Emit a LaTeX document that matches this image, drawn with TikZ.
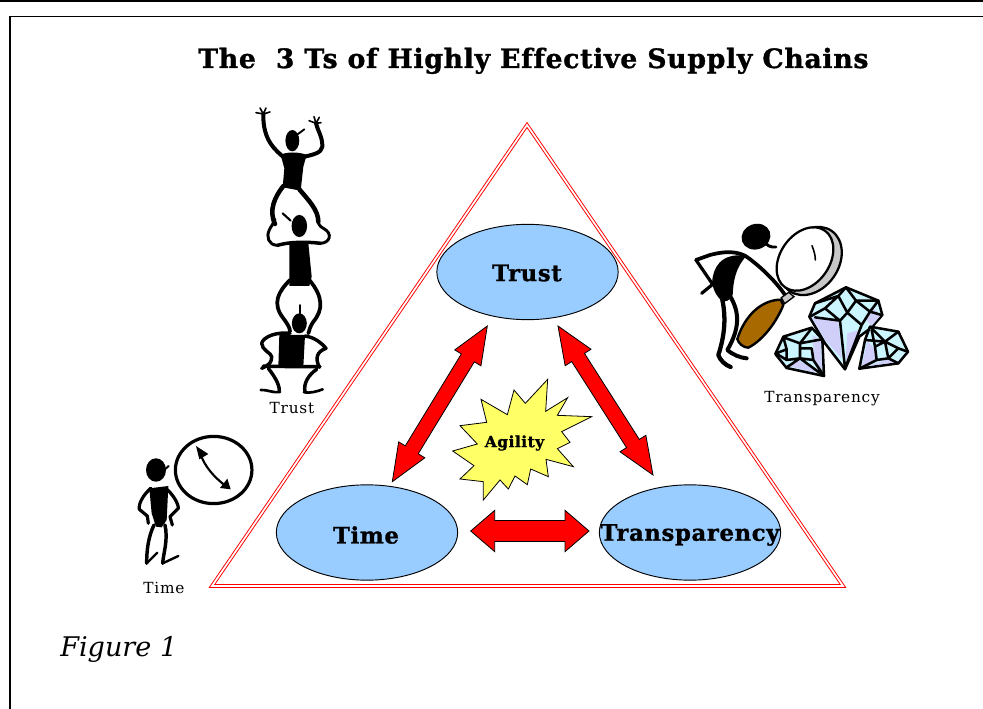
\documentclass[tikz,border=0pt]{standalone}
\usepackage{fontspec}
\setmainfont{DejaVu Serif}
\usetikzlibrary{calc,shapes.geometric}
\definecolor{ovalblue}{HTML}{99CCFF}
\definecolor{staryellow}{HTML}{FFFF66}
\definecolor{handlebrown}{HTML}{A86A00}
\definecolor{lensgray}{HTML}{C8C8C8}
\definecolor{gemcyan}{HTML}{CCF6FF}
\definecolor{gemlav}{HTML}{CFCFFA}
\newfontfamily\titlefont[FakeBold=1.2,LetterSpace=2.7,Ligatures=NoCommon]{DejaVu Serif Bold}
\newfontfamily\ovalfont[FakeBold=1.2,LetterSpace=3,Ligatures=NoCommon]{DejaVu Serif Bold}
\newfontfamily\capfont[LetterSpace=5]{DejaVu Serif}
\tikzset{
  oval/.style={ellipse,draw=black,line width=.7pt,fill=ovalblue,minimum width=136pt,minimum height=71.5pt,inner sep=0pt},
  ovaltext/.style={font=\ovalfont\fontsize{17pt}{20pt}\selectfont,inner sep=0pt},
  fat/.style={draw=black,line width=.6pt,fill=red,line join=miter},
  caption/.style={font=\capfont\fontsize{11.5pt}{13pt}\selectfont,inner sep=0pt},
  ink/.style={draw=black,line cap=round,line join=round},
  gemline/.style={draw=black,line width=1.9pt,line cap=round,line join=round},
  gemedge/.style={draw=black,line width=1.9pt,line join=round,fill=gemcyan}
}
\newcommand\fatarrow[5]{% tail tip headlen headhalf shafthalf
  \coordinate (pa) at ($(#1)!#3!(#2)$);
  \coordinate (pb) at ($(#2)!#3!(#1)$);
  \draw[fat] (#1) -- ($(pa)!#4!90:(#2)$) -- ($(pa)!#5!90:(#2)$) -- ($(pb)!#5!-90:(#1)$) -- ($(pb)!#4!-90:(#1)$) -- (#2) -- ($(pb)!#4!90:(#1)$) -- ($(pb)!#5!90:(#1)$) -- ($(pa)!#5!-90:(#2)$) -- ($(pa)!#4!-90:(#2)$) -- cycle;}
\begin{document}
\begin{tikzpicture}[x=.75pt,y=-.75pt]
\useasboundingbox (0,0) rectangle (983,709);
\fill[white] (0,0) rectangle (983,709);
% frame
\draw[line width=1.6pt] (0,0.6) -- (983,0.6);
\draw[line width=1.2pt] (10,709) -- (10,16.5) -- (983,16.5);
% title
\node[anchor=base west,inner sep=0pt,font=\titlefont\fontsize{20pt}{24pt}\selectfont] (title) at (198,68) {The\ \ 3 Ts of Highly Effective Supply Chains};
\node[anchor=base west,inner sep=0pt,font=\fontsize{20.3pt}{24pt}\itshape] (fig) at (60,657) {Figure 1};
% triangle
\draw[red,line width=.7pt,double=white,double distance=1.3pt,line join=miter] (527,125) -- (843,586) -- (212,586) -- cycle;
% ovals
\node[oval] (trust) at (527.5,272) {};
\node[oval] (time) at (367,532.5) {};
\node[oval] (transp) at (690,532.5) {};
\node[ovaltext] (trustl) at (527,273) {Trust};
\node[ovaltext] (timel) at (366,535) {Time};
\node[ovaltext] (transpl) at (690,535) {Transparency};
% arrows
\coordinate (a1) at (487.3,326);
\coordinate (a2) at (392.3,481.7);
\coordinate (b1) at (558,326);
\coordinate (b2) at (653,475);
\coordinate (c1) at (470.7,531);
\coordinate (c2) at (589,531);
\fatarrow{a1}{a2}{28pt}{11.5pt}{5.7pt}
\fatarrow{b1}{b2}{28pt}{11.5pt}{5.7pt}
\fatarrow{c1}{c2}{18pt}{15.5pt}{7.9pt}
% star
\begin{scope}[shift={(440,370)},x=.25pt,y=-.25pt]
\draw[draw=black,line width=.6pt,fill=staryellow]
 (323,28)--(317,124)--(383,83)--(352,136)--(455,140)--(365,185)--(390,217)--(352,236)--(400,290)--(318,268)--(325,320)--(272,297)--(262,344)--(225,318)--(205,357)--(180,330)--(130,390)--(130,335)--(60,327)--(102,287)--(38,243)--(112,222)--(60,167)--(140,157)--(123,88)--(202,134)--(222,60)--(256,100)--cycle;
\end{scope}
\node[font=\ovalfont\fontsize{11.6pt}{13pt}\selectfont,inner sep=0pt] (agility) at (514.5,443) {Agility};
% captions
\node[caption] (c1l) at (292,408.5) {Trust};
\node[caption] (c2l) at (822,399) {Transparency};
\node[caption] (c3l) at (164,588) {Time};
% acrobats
\begin{scope}[shift={(240,100)},x=.25pt,y=-.25pt]
 % top
 \fill (157,122) ellipse [x radius=5.2pt,y radius=8pt];
 \draw[ink,line width=1.4pt] (170,105)--(193,88);
 \fill (122,165) .. controls (135,155) and (180,155) .. (200,165) -- (190,200) -- (182,272) -- (128,262) -- (133,205) -- cycle;
 \draw[ink,line width=3pt] (135,175) .. controls (105,150) and (68,120) .. (70,42);
 \draw[ink,line width=3pt] (185,172) .. controls (215,165) and (245,160) .. (247,140) .. controls (248,110) and (232,90) .. (228,70);
 \draw[ink,line width=1.2pt] (70,42)--(48,38) (70,42)--(60,24) (70,42)--(78,24) (70,42)--(90,36);
 \draw[ink,line width=1.2pt] (228,70)--(207,62) (228,70)--(222,50) (228,70)--(238,52) (228,70)--(243,68);
 \draw[ink,line width=3.4pt] (130,258) .. controls (105,290) and (85,330) .. (105,372);
 \draw[ink,line width=3.4pt] (178,268) .. controls (205,300) and (235,330) .. (235,365);
 % middle
 \fill (178,378) ellipse [x radius=5.8pt,y radius=8.3pt];
 \draw[ink,line width=1.6pt] (128,340)--(152,362);
 \draw[ink,line width=2.2pt] (112,436) .. controls (85,435) and (78,410) .. (88,390) .. controls (92,380) and (100,372) .. (105,358);
 \draw[ink,line width=2.2pt] (240,430) .. controls (270,430) and (280,400) .. (250,385) .. controls (240,380) and (235,372) .. (232,360);
 \draw[ink,line width=2.6pt] (112,436) .. controls (150,425) and (200,425) .. (242,430);
 \fill (148,430)--(205,430)--(215,530)--(208,558)--(148,558)--cycle;
 \draw[ink,line width=2.8pt] (150,540) .. controls (115,575) and (95,610) .. (130,655) .. controls (145,675) and (150,685) .. (150,695);
 \draw[ink,line width=2.8pt] (208,540) .. controls (250,590) and (250,630) .. (220,665) .. controls (210,680) and (208,690) .. (205,700);
 % bottom
 \fill (178,670) ellipse [x radius=5.6pt,y radius=7.5pt];
 \draw[ink,line width=1.3pt] (181,615)--(181,645);
 \fill (118,705)--(195,705)--(190,800)--(115,800)--cycle;
 \draw[ink,line width=2.6pt] (150,700) .. controls (110,695) and (70,710) .. (65,730) .. controls (65,750) and (95,760) .. (95,770) .. controls (95,785) and (90,795) .. (65,805);
 \draw[ink,line width=2.6pt] (195,708) .. controls (225,712) and (245,730) .. (258,745) .. controls (230,755) and (225,775) .. (238,802);
 \draw[ink,line width=2.6pt] (70,798) .. controls (110,800) and (200,800) .. (240,800);
 \draw[ink,line width=2.6pt] (85,805) .. controls (100,825) and (118,850) .. (118,872);
 \draw[ink,line width=2pt] (62,870) .. controls (80,868) and (100,880) .. (120,876);
 \draw[ink,line width=2.6pt] (230,808) .. controls (205,825) and (190,850) .. (195,875);
 \draw[ink,line width=2pt] (192,877) .. controls (210,880) and (230,875) .. (248,868);
\end{scope}
% clock man
\begin{scope}[shift={(120,420)},x=.25pt,y=-.25pt]
 \draw[line width=2.4pt] (281,150) ellipse [x radius=28.7pt,y radius=25.2pt];
 \draw[ink,line width=1.6pt] (240,100) .. controls (255,140) and (280,170) .. (320,200);
 \fill (228,78)--(265,102)--(238,118)--cycle;
 \fill (332,208)--(300,204)--(322,176)--cycle;
 \fill (108,150) ellipse [x radius=7.5pt,y radius=8.8pt];
 \draw[ink,line width=1.5pt] (130,152)--(146,138);
 \fill (88,205) -- (145,198) -- (140,300) -- (125,322) -- (108,320) -- (95,280) -- cycle;
 \draw[ink,line width=2.4pt] (92,205) .. controls (70,225) and (55,250) .. (58,268) -- (82,288) -- (85,310);
 \draw[ink,line width=2.4pt] (138,205) .. controls (160,225) and (175,250) .. (175,265) -- (150,290) -- (157,315);
 \draw[ink,line width=2.6pt] (102,315) .. controls (85,350) and (80,390) .. (80,430);
 \draw[ink,line width=1.8pt] (80,430)--(112,398);
 \draw[ink,line width=2.6pt] (135,315) .. controls (145,360) and (130,400) .. (128,430);
 \draw[ink,line width=1.8pt] (128,430)--(175,408);
\end{scope}
% inspector (zoom 10 coordinates)
\begin{scope}[shift={(690,215)},x=.25pt,y=-.25pt]
 \fill[rotate around={20:(198,65)}] (198,65) ellipse [x radius=11pt,y radius=9.5pt];
 \draw[ink,line width=2.2pt] (222,78) .. controls (230,92) and (242,98) .. (258,96);
 \draw[ink,line width=2.8pt] (18,135) -- (60,120) .. controls (90,112) and (130,105) .. (165,122) .. controls (200,145) and (255,195) .. (285,240);
 \draw[ink,line width=2.4pt] (18,135) -- (68,208) -- (35,235);
 \fill (66,205) .. controls (68,160) and (90,112) .. (170,122) .. controls (135,160) and (130,200) .. (128,240) .. controls (110,275) and (80,260) .. (66,205) -- cycle;
 \draw[ink,line width=3.2pt] (92,235) .. controls (108,290) and (108,350) .. (85,420) .. controls (90,435) and (105,450) .. (122,456);
 \draw[ink,line width=3pt] (118,240) .. controls (150,290) and (150,340) .. (112,405) .. controls (130,420) and (150,428) .. (170,430);
 % handle
 \draw[draw=black,line width=1.8pt,fill=handlebrown,line join=round] (272,254) .. controls (215,255) and (165,300) .. (142,372) .. controls (145,385) and (160,398) .. (175,398) .. controls (220,375) and (260,320) .. (280,270) -- cycle;
 \draw[draw=black,line width=1pt,fill=lensgray] (274,248)--(296,232)--(312,245)--(284,266)--cycle;
 % lens
 \draw[draw=black,line width=1.7pt,fill=lensgray,rotate around={-35:(362,138)}] (362,138) ellipse [x radius=21pt,y radius=27.5pt];
 \draw[draw=black,line width=1.7pt,fill=white,rotate around={-35:(345,132)}] (345,132) ellipse [x radius=18.5pt,y radius=26pt];
 \draw[ink,line width=1.2pt] (366,92) .. controls (372,108) and (376,120) .. (376,135);
\end{scope}
% gems
\begin{scope}[shift={(770,280)},x=.25pt,y=-.25pt]
 % centre gem
 \draw[gemedge] (228,22)--(325,62)--(337,105)--(305,142)--(268,170)--(225,268)--(165,190)--(118,110)--(135,70)--cycle;
 \fill[gemlav] (310,85)--(333,105)--(305,138)--(288,118)--cycle;
 \fill[gemlav] (125,112)--(205,125)--(215,235)--(165,180)--cycle;
 \fill[gemlav] (232,160)--(268,150)--(262,170)--(226,258)--cycle;
 \draw[gemline] (135,70)--(205,48)--(228,22) (205,48)--(165,85)--(120,110) (165,85)--(210,122)--(135,112) (210,122)--(225,265) (210,122)--(232,98)--(205,48) (232,98)--(258,62)--(228,22) (258,62)--(325,62) (258,62)--(300,95)--(325,62) (232,98)--(275,135)--(225,265) (275,135)--(300,95)--(335,105);
 % left gem
 \draw[gemedge] (125,143)--(157,178)--(162,288)--(50,264)--(16,222)--(40,170)--cycle;
 \fill[gemlav] (128,165)--(152,182)--(156,270)--(132,235)--cycle;
 \fill[gemlav] (52,258)--(85,240)--(150,280)--cycle;
 \draw[gemline] (40,172)--(90,190)--(125,145) (90,190)--(90,235)--(50,262) (90,190)--(155,178) (90,235)--(162,288) (90,205)--(125,205)--(130,240)--(90,235) (130,240)--(162,288) (18,220)--(50,208)--(40,172) (50,208)--(50,240)--(90,235) (50,240)--(18,220);
 % right gem
 \draw[gemedge] (300,140)--(385,155)--(414,215)--(385,250)--(268,266)--(285,180)--cycle;
 \fill[gemlav] (292,182)--(312,205)--(316,238)--(275,260)--cycle;
 \fill[gemlav] (295,258)--(352,238)--(382,246)--cycle;
 \draw[gemline] (285,180)--(345,185)--(385,155) (345,185)--(315,200)--(305,150) (345,185)--(355,235) (315,200)--(320,240)--(268,266) (320,240)--(355,235)--(385,250) (355,235)--(385,205)--(413,215) (345,185)--(385,205) (300,140)--(345,185);
\end{scope}
\end{tikzpicture}
\end{document}
